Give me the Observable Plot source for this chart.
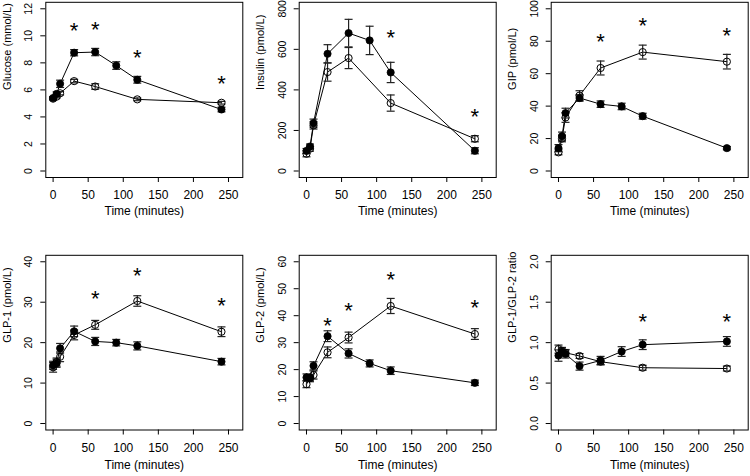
<!DOCTYPE html>
<html>
<head>
<meta charset="utf-8">
<script src="https://cdn.jsdelivr.net/npm/d3@7"></script>
<script src="https://cdn.jsdelivr.net/npm/@observablehq/plot@0.6"></script>
<style>
  html, body { margin: 0; padding: 0; background: #fff; }
  #wrap { position: relative; width: 750px; height: 476px; overflow: hidden; background: #fff; }
  .cell { position: absolute; width: 250px; height: 238px; }
</style>
</head>
<body>
<div id="wrap"></div>
<script>
// ---- time points ----
const timeA = [0, 5, 10, 30, 60, 90, 120, 240];   // filled series
const timeB = [0, 5, 10, 30, 60, 120, 240];       // open series
const xTicks = [0, 50, 100, 150, 200, 250];

// ---- Glucose ----
const gluTicks = [0, 2, 4, 6, 8, 10, 12];
const gluA = [5.4, 5.7, 6.45, 8.75, 8.8, 7.8, 6.75, 4.55];
const gluAerr = [0.1, 0.15, 0.27, 0.23, 0.27, 0.28, 0.25, 0.17];
const gluB = [5.35, 5.5, 5.75, 6.65, 6.25, 5.3, 5.05];
const gluBerr = [0.1, 0.1, 0.12, 0.13, 0.2, 0.1, 0.1];
const gluStarT = [30, 60, 120, 240];
const gluStarY = [10.75, 10.85, 8.8, 6.85];

// ---- Insulin ----
const insTicks = [0, 200, 400, 600, 800];
const insA = [99, 121, 236, 578, 680, 644, 486, 100];
const insAerr = [12, 12, 20, 45, 68, 70, 50, 15];
const insB = [85, 110, 225, 488, 557, 335, 159];
const insBerr = [15, 12, 18, 45, 52, 40, 15];
const insStarT = [120, 240];
const insStarY = [682, 294];

// ---- GIP ----
const gipTicks = [0, 20, 40, 60, 80, 100];
const gipA = [14.1, 21.5, 35.7, 45, 41.2, 39.8, 33.8, 14.1];
const gipAerr = [2.2, 2.5, 3, 2, 2, 2, 1.8, 1];
const gipB = [11.5, 20, 33, 46.5, 63.5, 73.3, 67.4];
const gipBerr = [1.5, 2, 3, 3, 4.3, 4.3, 4.5];
const gipStarT = [60, 120, 240];
const gipStarY = [83, 92.6, 86.5];

// ---- GLP-1 ----
const glp1Ticks = [0, 10, 20, 30, 40];
const glp1A = [14.4, 14.9, 18.6, 22.8, 20.3, 20.0, 19.2, 15.3];
const glp1Aerr = [1, 1, 1.2, 1.3, 1, 0.8, 1, 0.8];
const glp1B = [13.9, 15.2, 16.5, 21.9, 24.4, 30.3, 22.7];
const glp1Berr = [1.2, 1, 1.2, 1.2, 1.1, 1.3, 1.2];
const glp1StarT = [60, 120, 240];
const glp1StarY = [32.2, 37.9, 30.5];

// ---- GLP-2 ----
const glp2Ticks = [0, 10, 20, 30, 40, 50, 60];
const glp2A = [17.1, 17.0, 21.4, 32.4, 26.0, 22.3, 19.6, 15.1];
const glp2Aerr = [1.3, 1.2, 1.5, 2, 1.7, 1.3, 1.4, 1];
const glp2B = [14.6, 16.8, 18, 26.4, 31.9, 43.6, 33.2];
const glp2Berr = [1.3, 1.3, 1.5, 2, 2, 2.8, 2];
const glp2StarT = [30, 60, 120, 240];
const glp2StarY = [38.1, 43.9, 55.3, 44.9];

// ---- GLP-1/GLP-2 ratio ----
const ratTicks = [0, 0.5, 1, 1.5, 2];
const ratA = [0.84, 0.89, 0.86, 0.71, 0.78, 0.89, 0.975, 1.015];
const ratAerr = [0.07, 0.05, 0.05, 0.05, 0.05, 0.06, 0.06, 0.06];
const ratB = [0.92, 0.9, 0.875, 0.835, 0.765, 0.69, 0.68];
const ratBerr = [0.05, 0.04, 0.04, 0.03, 0.04, 0.03, 0.03];
const ratStarT = [120, 240];
const ratStarY = [1.33, 1.32];

const intFmt = d => String(d);
const panels = [
  {label: "Glucose (mmol/L)", ticks: gluTicks, A: gluA, Ae: gluAerr, B: gluB, Be: gluBerr, sT: gluStarT, sY: gluStarY, fmt: intFmt},
  {label: "Insulin (pmol/L)", ticks: insTicks, A: insA, Ae: insAerr, B: insB, Be: insBerr, sT: insStarT, sY: insStarY, fmt: intFmt},
  {label: "GIP (pmol/L)", ticks: gipTicks, A: gipA, Ae: gipAerr, B: gipB, Be: gipBerr, sT: gipStarT, sY: gipStarY, fmt: intFmt},
  {label: "GLP-1 (pmol/L)", ticks: glp1Ticks, A: glp1A, Ae: glp1Aerr, B: glp1B, Be: glp1Berr, sT: glp1StarT, sY: glp1StarY, fmt: intFmt},
  {label: "GLP-2 (pmol/L)", ticks: glp2Ticks, A: glp2A, Ae: glp2Aerr, B: glp2B, Be: glp2Berr, sT: glp2StarT, sY: glp2StarY, fmt: intFmt},
  {label: "GLP-1/GLP-2 ratio", ticks: ratTicks, A: ratA, Ae: ratAerr, B: ratB, Be: ratBerr, sT: ratStarT, sY: ratStarY, fmt: d3.format(".1f")}
];

const rows = (ts, vs, es) => ts.map((t, i) => ({t, v: vs[i], e: es[i]}));
const cap = {draw(ctx, size) { const w = Math.sqrt(size / Math.PI); ctx.moveTo(-w, 0); ctx.lineTo(w, 0); }};

const lefts = [45.3, 48.7, 50.7];
const FONT = "'Liberation Sans', Arial, Helvetica, sans-serif";
const wrap = document.getElementById("wrap");

panels.forEach((p, i) => {
  const col = i % 3, row = Math.floor(i / 3);
  const L = lefts[col];
  const mt = row ? 16.8 : 1.8, mb = row ? 46.5 : 61;
  const lo = p.ticks[0], hi = p.ticks[p.ticks.length - 1];
  const pad = (hi - lo) * 0.04;
  const a = rows(timeA, p.A, p.Ae), b = rows(timeB, p.B, p.Be);
  const bars = a.concat(b);
  const stars = p.sT.map((t, j) => ({t, y: p.sY[j]}));
  const svg = Plot.plot({
    width: 250, height: 238,
    marginLeft: L, marginRight: 250 - L - 197, marginTop: mt, marginBottom: mb,
    style: {background: "white", fontFamily: FONT, fontSize: "12px", color: "black"},
    x: {domain: [-10.4, 270.4]},
    y: {domain: [lo - pad, hi + pad]},
    marks: [
      Plot.axisX({ticks: xTicks, tickSize: 5, tickPadding: 8, label: null, tickFormat: intFmt, fontSize: 12}),
      Plot.axisY({ticks: p.ticks, tickSize: 5, tickRotate: -90, tickPadding: 8.5, label: null, tickFormat: p.fmt, fontSize: 10.5}),
      Plot.text([p.label], {text: d => d, frameAnchor: "left", dx: -38.5, rotate: -90, fontSize: 11}),
      Plot.text(["Time (minutes)"], {text: d => d, frameAnchor: "bottom", dy: row ? 38.5 : 37, fontSize: 12}),
      Plot.line(a, {x: "t", y: "v", stroke: "black", strokeWidth: 1}),
      Plot.line(b, {x: "t", y: "v", stroke: "black", strokeWidth: 1}),
      Plot.ruleX(bars, {x: "t", y1: d => d.v - d.e, y2: d => d.v + d.e, stroke: "#222", strokeWidth: 1.2}),
      Plot.dot(bars, {x: "t", y: d => d.v + d.e, symbol: cap, r: 4, stroke: "#222", fill: "none", strokeWidth: 1.2}),
      Plot.dot(bars, {x: "t", y: d => d.v - d.e, symbol: cap, r: 4, stroke: "#222", fill: "none", strokeWidth: 1.2}),
      Plot.dot(a, {x: "t", y: "v", r: 3.6, fill: "black", stroke: "black", strokeWidth: 0.8}),
      Plot.dot(b, {x: "t", y: "v", r: 3.6, fill: "none", stroke: "black", strokeWidth: 1}),
      Plot.text(stars, {x: "t", y: "y", text: () => "*", fontSize: 22, dy: 5.5}),
      Plot.frame({stroke: "black", strokeWidth: 1})
    ]
  });
  const cell = document.createElement("div");
  cell.className = "cell";
  cell.style.left = (col * 250) + "px";
  cell.style.top = (row * 238) + "px";
  cell.appendChild(svg);
  wrap.appendChild(cell);
});
</script>
</body>
</html>
